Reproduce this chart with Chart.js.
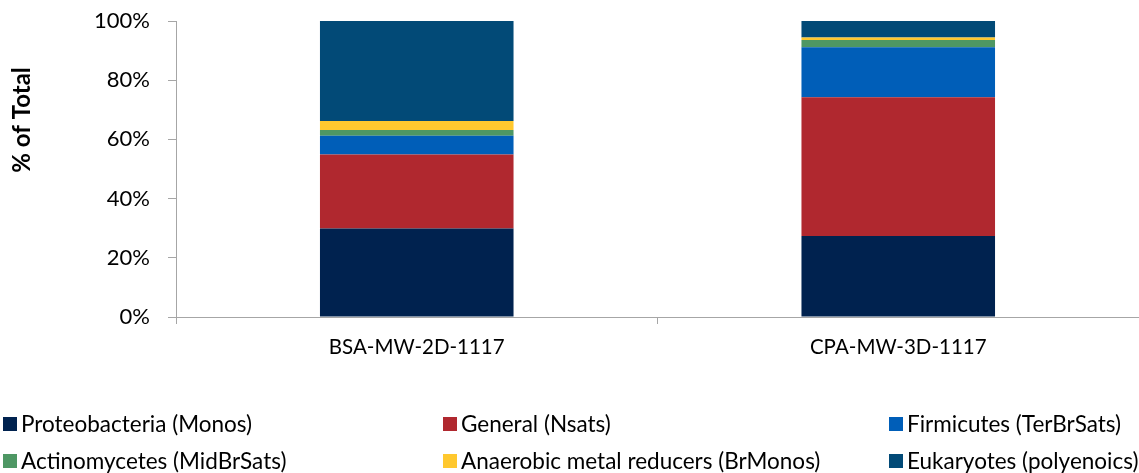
<!DOCTYPE html>
<html>
<head>
<meta charset="utf-8">
<script src="https://cdn.jsdelivr.net/npm/chart.js@4/dist/chart.umd.min.js"></script>
<style>
  html, body { margin: 0; padding: 0; background: #fff; }
  #wrap { position: relative; width: 1139px; height: 473px; overflow: hidden; }
  #chart { position: absolute; left: 0; top: 0; }
  #legend { position: absolute; left: 0; top: 0; width: 1139px; height: 473px; pointer-events: none;
            font-family: Lato, "Open Sans", sans-serif; font-size: 22.5px; color: #000; }
  .item { position: absolute; display: flex; align-items: center; white-space: nowrap; line-height: 1; }
  .swatch { width: 14px; height: 14px; margin-right: 4px; flex: none; }
</style>
</head>
<body>
<div id="wrap">
  <canvas id="chart" width="1139" height="473"></canvas>
  <div id="legend"></div>
</div>
<script>
// Samples on the category axis
const categories = ['BSA-MW-2D-1117', 'CPA-MW-3D-1117'];

// PLFA community composition, % of total
const proteobacteria = [29.9, 27.4];
const general        = [25.0, 46.8];
const firmicutes     = [6.3, 16.9];
const actinomycetes  = [2.0, 2.5];
const anaerobic      = [3.0, 0.8];
const eukaryotes     = [33.8, 5.6];

const seriesNames = [
  'Proteobacteria (Monos)',
  'General (Nsats)',
  'Firmicutes (TerBrSats)',
  'Actinomycetes (MidBrSats)',
  'Anaerobic metal reducers (BrMonos)',
  'Eukaryotes (polyenoics)'
];
const seriesColors = ['#00224F', '#B0282F', '#005EB8', '#4E9764', '#FFC82E', '#024A77'];
const seriesValues = [proteobacteria, general, firmicutes, actinomycetes, anaerobic, eukaryotes];

const yTickValues = [0, 20, 40, 60, 80, 100];

const FONT = 'Lato, "Open Sans", sans-serif';

// Rotated y-axis title, sitting a little above the axis midpoint
const yTitlePlugin = {
  id: 'yTitle',
  afterDraw(chart) {
    const ctx = chart.ctx;
    ctx.save();
    ctx.translate(22, 120);
    ctx.rotate(-Math.PI / 2);
    ctx.font = 'bold 24px ' + FONT;
    ctx.fillStyle = '#000';
    ctx.textAlign = 'center';
    ctx.textBaseline = 'middle';
    ctx.fillText('% of Total', 0, 0);
    ctx.restore();
  }
};

new Chart(document.getElementById('chart'), {
  type: 'bar',
  data: {
    labels: categories,
    datasets: seriesNames.map((name, i) => ({
      label: name,
      data: seriesValues[i],
      backgroundColor: seriesColors[i],
      borderWidth: 0,
      categoryPercentage: 1.0,
      barPercentage: 0.402
    }))
  },
  options: {
    responsive: false,
    animation: false,
    layout: { padding: { top: 21, right: -3, bottom: 0, left: 0 } },
    plugins: {
      legend: { display: false },
      tooltip: { enabled: false }
    },
    scales: {
      x: {
        stacked: true,
        afterFit(scale) {
          scale.height = 156;
          scale.paddingLeft = 0;
          scale.paddingRight = 0;
        },
        grid: {
          offset: true,
          drawOnChartArea: false,
          drawTicks: true,
          tickLength: 7,
          color: '#A6A6A6'
        },
        border: { color: '#A6A6A6', width: 1 },
        ticks: {
          color: '#000',
          padding: 11,
          maxRotation: 0,
          font: { family: FONT, size: 20.5 }
        }
      },
      y: {
        stacked: true,
        min: 0,
        max: 100,
        afterFit(scale) {
          scale.width = 176;
          scale.paddingTop = 0;
          scale.paddingBottom = 0;
        },
        afterBuildTicks(scale) { scale.ticks = yTickValues.map(v => ({ value: v })); },
        grid: {
          drawOnChartArea: false,
          drawTicks: true,
          tickLength: 8,
          color: '#A6A6A6'
        },
        border: { color: '#A6A6A6', width: 1 },
        ticks: {
          color: '#000',
          padding: 18,
          font: { family: FONT, size: 22 },
          callback: v => v + '%'
        }
      }
    }
  },
  plugins: [yTitlePlugin]
});

// Legend laid out in three columns, two rows
const legend = document.getElementById('legend');
const colX = [3, 443, 889];
const rowY = [424, 461];
seriesNames.forEach((name, i) => {
  const item = document.createElement('div');
  item.className = 'item';
  item.style.left = colX[i % 3] + 'px';
  item.style.top = (rowY[Math.floor(i / 3)] - 12) + 'px';
  item.style.height = '24px';
  const sw = document.createElement('span');
  sw.className = 'swatch';
  sw.style.background = seriesColors[i];
  const tx = document.createElement('span');
  tx.textContent = name;
  item.appendChild(sw);
  item.appendChild(tx);
  legend.appendChild(item);
});
</script>
</body>
</html>
